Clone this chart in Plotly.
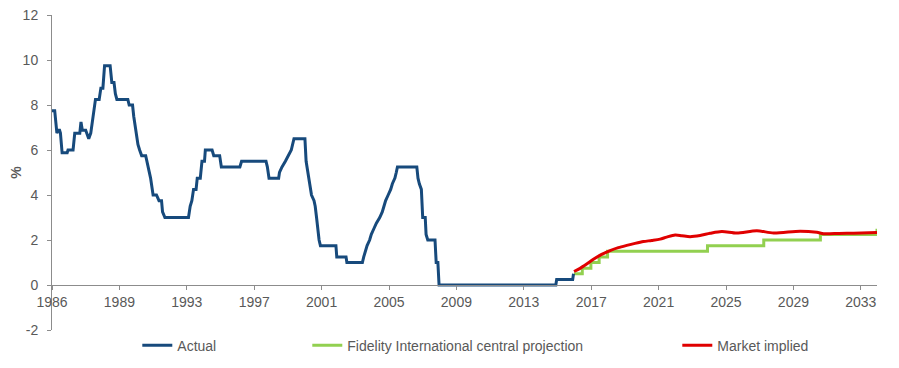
import plotly.graph_objects as go

# ---- data (x = decimal year) ----
actual_x = [1986.00, 1986.16, 1986.29, 1986.36, 1986.45, 1986.50, 1986.60, 1986.90, 1986.95,
            1987.25, 1987.35, 1987.65, 1987.72, 1987.80, 1988.00, 1988.18, 1988.30, 1988.40,
            1988.50, 1988.58, 1988.80, 1988.90, 1989.02, 1989.12, 1989.45, 1989.55, 1989.68,
            1989.76, 1989.85, 1990.50, 1990.58, 1990.78, 1990.85, 1990.95, 1991.02, 1991.10,
            1991.20, 1991.32, 1991.56, 1991.70, 1991.85, 1992.00, 1992.20, 1992.35, 1992.50,
            1992.56, 1992.70, 1994.10, 1994.20, 1994.30, 1994.40, 1994.55, 1994.62, 1994.80,
            1994.90, 1995.05, 1995.10, 1995.50, 1995.60, 1995.95, 1996.05, 1997.15, 1997.25,
            1998.70, 1998.78, 1998.88, 1999.45, 1999.50, 1999.65, 1999.85, 2000.05, 2000.20,
            2000.36, 2001.01, 2001.08, 2001.20, 2001.30, 2001.40, 2001.55, 2001.62, 2001.70,
            2001.77, 2001.85, 2001.93, 2002.85, 2002.90, 2003.45, 2003.50, 2004.42, 2004.50,
            2004.60, 2004.70, 2004.85, 2004.95, 2005.10, 2005.25, 2005.45, 2005.60, 2005.70,
            2005.80, 2005.95, 2006.10, 2006.20, 2006.35, 2006.43, 2006.50, 2007.65, 2007.72,
            2007.80, 2007.92, 2008.00, 2008.15, 2008.20, 2008.30, 2008.73, 2008.80, 2008.90,
            2008.97, 2015.90, 2015.95, 2016.90, 2016.95]
actual_y = [7.75, 7.75, 6.75, 6.875, 6.875, 6.75, 5.875, 5.875, 6.0,
            6.0, 6.75, 6.75, 7.25, 6.875, 6.875, 6.5, 6.75, 7.25,
            7.75, 8.25, 8.25, 8.75, 8.75, 9.75, 9.75, 9.0, 9.0,
            8.5, 8.25, 8.25, 8.0, 8.0, 7.5, 7.0, 6.75, 6.25,
            6.0, 5.75, 5.75, 5.25, 4.75, 4.0, 4.0, 3.75, 3.75,
            3.25, 3.0, 3.0, 3.5, 3.75, 4.25, 4.25, 4.75, 4.75,
            5.5, 5.5, 6.0, 6.0, 5.75, 5.75, 5.25, 5.25, 5.5,
            5.5, 5.25, 4.75, 4.75, 5.0, 5.25, 5.5, 5.75, 6.0,
            6.5, 6.5, 5.5, 5.0, 4.5, 4.0, 3.75, 3.5, 3.0,
            2.5, 2.0, 1.75, 1.75, 1.25, 1.25, 1.0, 1.0, 1.25,
            1.5, 1.75, 2.0, 2.25, 2.5, 2.75, 3.0, 3.25, 3.5,
            3.75, 4.0, 4.25, 4.5, 4.75, 5.0, 5.25, 5.25, 4.75,
            4.5, 4.25, 3.0, 3.0, 2.25, 2.0, 2.0, 1.0, 1.0,
            0.0, 0.0, 0.25, 0.25, 0.5]

fidelity_x = [2016.98, 2017.47, 2017.98, 2018.47, 2018.97, 2024.90, 2028.24, 2031.60, 2034.93, 2034.96]
fidelity_y = [0.5, 0.75, 1.0, 1.25, 1.5, 1.75, 2.0, 2.25, 2.25, 2.5]

market_x = [2016.98, 2017.34, 2017.73, 2018.13, 2018.62, 2019.12, 2019.61, 2020.11, 2020.60,
            2021.10, 2021.59, 2022.09, 2022.48, 2022.98, 2023.38, 2023.87, 2024.46, 2025.06,
            2025.75, 2026.64, 2027.83, 2028.82, 2030.40, 2031.39, 2031.79, 2032.70, 2033.57,
            2034.96]
market_y = [0.60, 0.74, 0.93, 1.14, 1.36, 1.53, 1.66, 1.76, 1.85,
            1.93, 1.98, 2.04, 2.13, 2.22, 2.19, 2.15, 2.20, 2.30,
            2.38, 2.31, 2.41, 2.31, 2.39, 2.34, 2.28, 2.29, 2.30,
            2.33]

x_tick_vals = [1986, 1990, 1994, 1998, 2002, 2006, 2010, 2014, 2018, 2022, 2026, 2030, 2034]
x_tick_labels = ["1986", "1989", "1993", "1997", "2001", "2005", "2009", "2013",
                 "2017", "2021", "2025", "2029", "2033"]
y_tick_vals = [-2, 0, 2, 4, 6, 8, 10, 12]
y_tick_labels = ["-2", "0", "2", "4", "6", "8", "10", "12"]

FONT = "Liberation Sans, Arial, sans-serif"
GREY = "#595959"
AXIS = "#8c8c8c"

# page body has an 8px default margin; compensate so the plot lands at the same pixels
OFF = 8
W, H = 899 - OFF, 368 - OFF
L, R, T, B = 52 - OFF, 22, 15 - OFF, 38
PW = W - L - R

fig = go.Figure()
fig.add_trace(go.Scatter(x=fidelity_x, y=fidelity_y, mode="lines", name="Fidelity International central projection",
                         line=dict(color="#92D050", width=3, shape="hv"), legend="legend2"))
fig.add_trace(go.Scatter(x=market_x, y=market_y, mode="lines", name="Market implied",
                         line=dict(color="#E00000", width=3, shape="spline", smoothing=0.8), legend="legend3"))
fig.add_trace(go.Scatter(x=actual_x, y=actual_y, mode="lines", name="Actual",
                         line=dict(color="#174A7C", width=3), legend="legend"))


def px_to_paper_x(px):
    return (px - OFF - L) / PW


leg_common = dict(orientation="h", yanchor="middle", xanchor="left", y=-0.05,
                  font=dict(family=FONT, size=14, color=GREY), bgcolor="rgba(0,0,0,0)",
                  borderwidth=0)

fig.update_layout(
    width=W, height=H,
    margin=dict(l=L, r=R, t=T, b=B, autoexpand=False),
    paper_bgcolor="white", plot_bgcolor="white",
    font=dict(family=FONT, size=14, color=GREY),
    showlegend=True,
    legend=dict(x=px_to_paper_x(137.3), **leg_common),
    legend2=dict(x=px_to_paper_x(307.3), **leg_common),
    legend3=dict(x=px_to_paper_x(677.3), **leg_common),
    xaxis=dict(range=[1986, 2034.96], tickvals=x_tick_vals, ticktext=x_tick_labels,
               showgrid=False, zeroline=False, showline=True, linecolor=AXIS, linewidth=1,
               ticks="outside", ticklen=4, tickcolor=AXIS, automargin=False,
               anchor="free", position=2 / 14, ticklabeloverflow="allow",
               tickfont=dict(family=FONT, size=14, color=GREY)),
    yaxis=dict(range=[-2, 12], tickvals=y_tick_vals, ticktext=y_tick_labels,
               showgrid=False, zeroline=False, automargin=False,
               showline=True, linecolor=AXIS, linewidth=1, ticks="outside", ticklen=4,
               tickcolor=AXIS, tickfont=dict(family=FONT, size=14, color=GREY),
               ticklabelstandoff=6, ticklabeloverflow="allow",
               title=dict(text="<b>%</b>", font=dict(family=FONT, size=14, color=GREY), standoff=0)),
)

fig.write_html("out.html")
